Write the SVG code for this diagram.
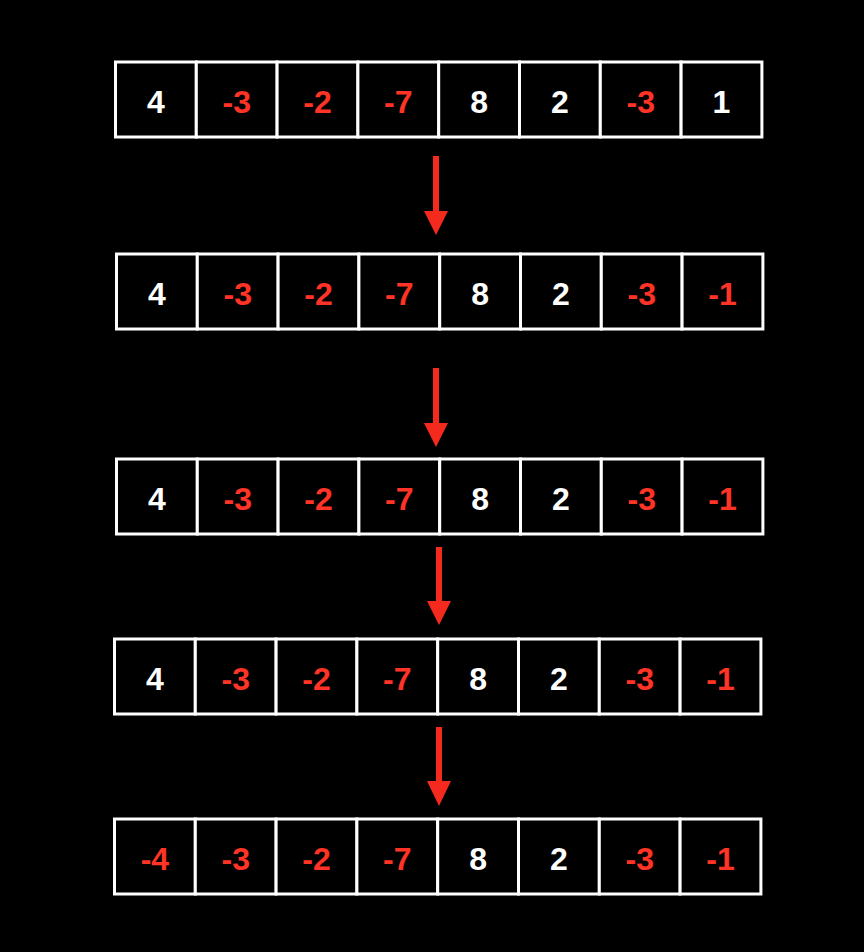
<svg xmlns="http://www.w3.org/2000/svg" width="864" height="952" viewBox="0 0 864 952">
<style>
.cell{fill:#000;stroke:#fff;stroke-width:3}
.t{font-family:"Liberation Sans",Arial,sans-serif;font-weight:bold;font-size:32px;text-anchor:middle}
.w{fill:#fff}
.r{fill:#ff3326}
.shaft{fill:#f52a1e}
.head{fill:#f52a1e}
</style>
<rect x="0" y="0" width="864" height="952" fill="#000"/>
<defs>
<g id="cells">
<rect class="cell" x="0" y="0" width="80.8" height="75"/>
<rect class="cell" x="80.8" y="0" width="80.8" height="75"/>
<rect class="cell" x="161.6" y="0" width="80.8" height="75"/>
<rect class="cell" x="242.4" y="0" width="80.8" height="75"/>
<rect class="cell" x="323.2" y="0" width="80.8" height="75"/>
<rect class="cell" x="404" y="0" width="80.8" height="75"/>
<rect class="cell" x="484.8" y="0" width="80.8" height="75"/>
<rect class="cell" x="565.6" y="0" width="80.8" height="75"/>
</g>
</defs>
<g id="row1" transform="translate(115.5,62)">
<use href="#cells"/>
<text class="t w" x="40.4" y="51">4</text>
<text class="t r" x="121.2" y="51">-3</text>
<text class="t r" x="202" y="51">-2</text>
<text class="t r" x="282.8" y="51">-7</text>
<text class="t w" x="363.6" y="51">8</text>
<text class="t w" x="444.4" y="51">2</text>
<text class="t r" x="525.2" y="51">-3</text>
<text class="t w" x="606" y="51">1</text>
</g>
<g id="row2" transform="translate(116.5,254)">
<use href="#cells"/>
<text class="t w" x="40.4" y="51">4</text>
<text class="t r" x="121.2" y="51">-3</text>
<text class="t r" x="202" y="51">-2</text>
<text class="t r" x="282.8" y="51">-7</text>
<text class="t w" x="363.6" y="51">8</text>
<text class="t w" x="444.4" y="51">2</text>
<text class="t r" x="525.2" y="51">-3</text>
<text class="t r" x="606" y="51">-1</text>
</g>
<g id="row3" transform="translate(116.5,459)">
<use href="#cells"/>
<text class="t w" x="40.4" y="51">4</text>
<text class="t r" x="121.2" y="51">-3</text>
<text class="t r" x="202" y="51">-2</text>
<text class="t r" x="282.8" y="51">-7</text>
<text class="t w" x="363.6" y="51">8</text>
<text class="t w" x="444.4" y="51">2</text>
<text class="t r" x="525.2" y="51">-3</text>
<text class="t r" x="606" y="51">-1</text>
</g>
<g id="row4" transform="translate(114.5,639)">
<use href="#cells"/>
<text class="t w" x="40.4" y="51">4</text>
<text class="t r" x="121.2" y="51">-3</text>
<text class="t r" x="202" y="51">-2</text>
<text class="t r" x="282.8" y="51">-7</text>
<text class="t w" x="363.6" y="51">8</text>
<text class="t w" x="444.4" y="51">2</text>
<text class="t r" x="525.2" y="51">-3</text>
<text class="t r" x="606" y="51">-1</text>
</g>
<g id="row5" transform="translate(114.5,819)">
<use href="#cells"/>
<text class="t r" x="40.4" y="51">-4</text>
<text class="t r" x="121.2" y="51">-3</text>
<text class="t r" x="202" y="51">-2</text>
<text class="t r" x="282.8" y="51">-7</text>
<text class="t w" x="363.6" y="51">8</text>
<text class="t w" x="444.4" y="51">2</text>
<text class="t r" x="525.2" y="51">-3</text>
<text class="t r" x="606" y="51">-1</text>
</g>
<g id="connectors">
<g transform="translate(436,156)"><rect class="shaft" x="-3" y="0" width="6" height="56"/><polygon class="head" points="-12,55 12,55 0,79"/></g>
<g transform="translate(436,368)"><rect class="shaft" x="-3" y="0" width="6" height="56"/><polygon class="head" points="-12,55 12,55 0,79"/></g>
<g transform="translate(439,547)"><rect class="shaft" x="-3" y="0" width="6" height="55"/><polygon class="head" points="-12,54 12,54 0,78"/></g>
<g transform="translate(439,727)"><rect class="shaft" x="-3" y="0" width="6" height="55"/><polygon class="head" points="-12,54 12,54 0,79"/></g>
</g>
</svg>
